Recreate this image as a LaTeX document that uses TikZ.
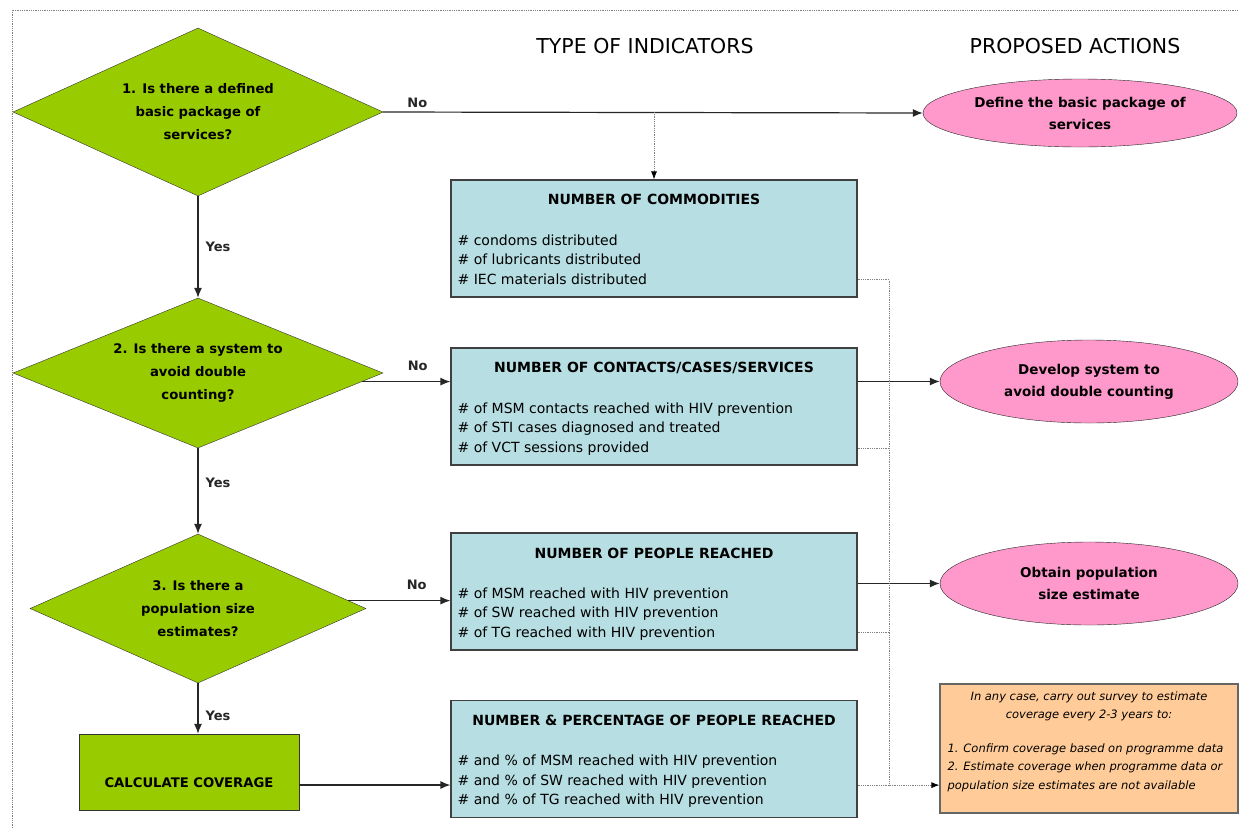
\documentclass[tikz,border=0pt]{standalone}
\usepackage{fontspec}
\setmainfont{DejaVu Sans}
\usetikzlibrary{arrows.meta,positioning,shapes.geometric}
\definecolor{qgreen}{RGB}{153,204,0}
\definecolor{indblue}{RGB}{183,222,226}
\definecolor{actpink}{RGB}{255,153,204}
\definecolor{notepeach}{RGB}{255,204,153}
\newcommand{\qfont}{\bfseries\fontsize{13.2}{23}\selectfont}
\newcommand{\hfont}{\bfseries\fontsize{14}{16}\selectfont}
\newcommand{\lfont}{\fontsize{14}{19.5}\selectfont}
\newcommand{\nfont}{\itshape\fontsize{11.5}{18.5}\selectfont}

\begin{document}
\begin{tikzpicture}[
    x=1pt, y=-1pt,
    quest/.style={diamond, draw=black!80, fill=qgreen, aspect=2.2, inner sep=0pt, align=center, font=\qfont},
    ind/.style={draw=black!75, line width=1.2pt, fill=indblue, minimum width=406pt, minimum height=117pt},
    indhead/.style={inner sep=0pt, font=\hfont},
    indlist/.style={inner sep=0pt, align=left, text depth=3pt, font=\lfont},
    act/.style={ellipse, draw=black!85, fill=actpink, inner sep=0pt, align=center, font=\bfseries\fontsize{13.5}{22}\selectfont},
    flow/.style={-{Latex[length=10pt,width=8pt]}, line width=1.2pt, black!85},
    feed/.style={densely dotted, gray, line width=0.8pt},
    lbl/.style={font=\bfseries\fontsize{13}{15}\selectfont, inner sep=2pt}
]
\useasboundingbox (0,0) rectangle (1239,828);

% frame
\draw[feed] (12,828) -- (12,10) -- (1239,10);

% column titles
\node[font=\fontsize{20.5}{22}\selectfont] (colInd) at (645,46) {TYPE OF INDICATORS};
\node[font=\fontsize{20.5}{22}\selectfont] (colAct) at (1075,46) {PROPOSED ACTIONS};

% questions
\node[quest, minimum width=370pt, minimum height=168pt] (q1) at (198,112) {1. Is there a defined\\basic package of\\services?};
\node[quest, minimum width=370pt, minimum height=150pt] (q2) at (198,373) {2. Is there a system to\\avoid double\\counting?};
\node[quest, minimum width=336pt, minimum height=149pt] (q3) at (198,608.5) {3. Is there a\\population size\\estimates?};
\node[draw=black!80, fill=qgreen, minimum width=220pt, minimum height=76pt, text height=32pt, font=\bfseries\fontsize{13.2}{15}\selectfont] (calc) at (189,772) {CALCULATE COVERAGE};

% type of indicators
\node[ind] (b1) at (654,238.5) {};
\node[indhead, below=15pt of b1.north] (b1h) {NUMBER OF COMMODITIES};
\node[indlist, above right=10pt and 7pt of b1.south west] (b1l) {\# condoms distributed\\\# of lubricants distributed\\\# IEC materials distributed};

\node[ind] (b2) at (654,406.5) {};
\node[indhead, below=15pt of b2.north] (b2h) {NUMBER OF CONTACTS/CASES/SERVICES};
\node[indlist, above right=10pt and 7pt of b2.south west] (b2l) {\# of MSM contacts reached with HIV prevention\\\# of STI cases diagnosed and treated\\\# of VCT sessions provided};

\node[ind] (b3) at (654,591.5) {};
\node[indhead, below=15pt of b3.north] (b3h) {NUMBER OF PEOPLE REACHED};
\node[indlist, above right=10pt and 7pt of b3.south west] (b3l) {\# of MSM reached with HIV prevention\\\# of SW reached with HIV prevention\\\# of TG reached with HIV prevention};

\node[ind] (b4) at (654,759) {};
\node[indhead, below=15pt of b4.north] (b4h) {NUMBER \& PERCENTAGE OF PEOPLE REACHED};
\node[indlist, above right=10pt and 7pt of b4.south west] (b4l) {\# and \% of MSM reached with HIV prevention\\\# and \% of SW reached with HIV prevention\\\# and \% of TG reached with HIV prevention};

% proposed actions
\node[act, minimum width=314pt, minimum height=68pt] (a1) at (1080,113) {Define the basic package of\\services};
\node[act, minimum width=298pt, minimum height=83pt] (a2) at (1089,381.5) {Develop system to\\avoid double counting};
\node[act, minimum width=298pt, minimum height=83pt] (a3) at (1089,583.5) {Obtain population\\size estimate};

\node[draw=black!60, line width=1.2pt, fill=notepeach, minimum width=298pt, minimum height=129pt] (note) at (1089,748.5) {};
\node[inner sep=0pt, align=center, font=\nfont, below=8pt of note.north] (noteTop) {In any case, carry out survey to estimate\\coverage every 2-3 years to:};
\node[inner sep=0pt, align=left, text depth=3pt, font=\nfont, above right=21pt and 8pt of note.south west] (noteList) {1. Confirm coverage based on programme data\\2. Estimate coverage when programme data or\\population size estimates are not available};

% connectors
\draw[flow] (q1.east) -- node[lbl, pos=0.04, anchor=south west, yshift=2pt] {No} (a1.west);
\draw[feed, -{Latex[length=8pt,width=6pt,color=black]}] (b1.north |- q1.east) -- (b1.north);
\draw[flow] (q1) -- node[lbl, right=5pt] {Yes} (q2);
\draw[flow] (q2) -- node[lbl, right=5pt, pos=0.4] {Yes} (q3);
\draw[flow] (q3.south) -- node[lbl, right=5pt, pos=0.65] {Yes} (q3.south |- calc.north);
\draw[flow] (q2.-3.2) -- node[lbl, above=8pt, pos=0.63] {No} (q2.-3.2 -| b2.west);
\draw[flow] (q3.3) -- node[lbl, above=8pt, pos=0.67] {No} (q3.3 -| b3.west);
\draw[flow] ([yshift=-13pt]calc.east) -- ([yshift=-13pt]calc.east -| b4.west);
\draw[flow] (a2.west -| b2.east) -- (a2.west);
\draw[flow] (a3.west -| b3.east) -- (a3.west);

% feedback to survey note
\coordinate (bus) at (889,0);
\coordinate (f1) at ([yshift=18pt]b1.south east);
\coordinate (f2) at ([yshift=17pt]b2.south east);
\coordinate (f3) at ([yshift=18pt]b3.south east);
\coordinate (f4) at ([yshift=33pt]b4.south east);
\draw[feed] (f1) -- (f1 -| bus) -- (bus |- f4);
\draw[feed] (f2) -- (f2 -| bus);
\draw[feed] (f3) -- (f3 -| bus);
\draw[feed, -{Latex[length=8pt,width=6pt,color=black]}] (f4) -- (f4 -| note.west);

\end{tikzpicture}
\end{document}
